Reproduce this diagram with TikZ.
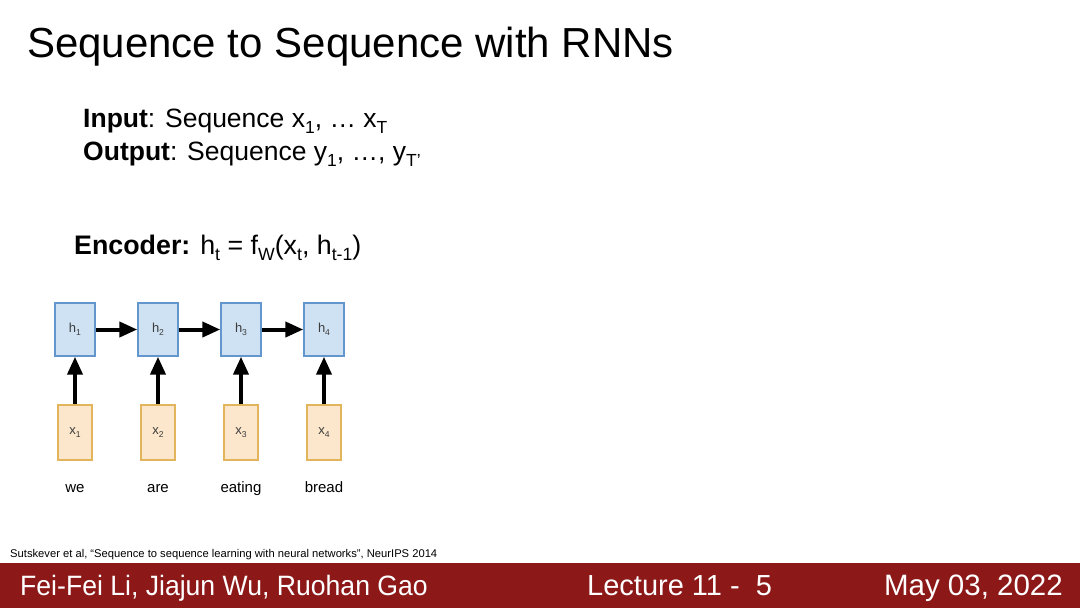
\documentclass[tikz,border=0pt]{standalone}
\usepackage{fontspec}
\setmainfont{Liberation Sans}
\usetikzlibrary{arrows.meta}
\definecolor{barred}{RGB}{140,24,24}
\definecolor{hfill}{RGB}{207,226,243}
\definecolor{hdraw}{RGB}{98,150,205}
\definecolor{xfill}{RGB}{252,231,204}
\definecolor{xdraw}{RGB}{226,180,92}
\definecolor{lbl}{RGB}{60,60,60}
\newcommand\lsub[1]{\raisebox{-0.45ex}{\scalebox{0.66}{#1}}}
\tikzset{
  hbox/.style={draw=hdraw, fill=hfill, line width=1.4pt, minimum width=40pt, minimum height=53pt, inner sep=0pt, font=\fontsize{13}{15}\selectfont, text=lbl},
  xbox/.style={draw=xdraw, fill=xfill, line width=1.4pt, minimum width=34pt, minimum height=55pt, inner sep=0pt, font=\fontsize{13}{15}\selectfont, text=lbl},
  word/.style={font=\fontsize{15}{18}\selectfont, inner sep=0pt, anchor=base},
  conn/.style={line width=4pt, -{Triangle[length=18pt,width=15pt]}},
  foot/.style={text=white, inner sep=0pt}
}
\begin{document}
\begin{tikzpicture}[x=1pt,y=-1pt]
\useasboundingbox (0,0) rectangle (1080,608);
\fill[white] (0,0) rectangle (1080,608);
% title
\node[anchor=base west, inner sep=0pt, font=\fontsize{42}{46}\selectfont] (title) at (27,57) {Sequence to Sequence with RNNs};
% input/output
\node[anchor=base west, inner sep=0pt, font=\fontsize{26.5}{31}\selectfont] (inp) at (83,127) {\textbf{Input}: Sequence x\lsub{1}, … x\lsub{T}};
\node[anchor=base west, inner sep=0pt, font=\fontsize{26.5}{31}\selectfont] (outp) at (83,160) {\textbf{Output}: Sequence y\lsub{1}, …, y\lsub{T'}};
% encoder
\node[anchor=base west, inner sep=0pt, font=\fontsize{26.8}{31}\selectfont] (enc) at (74,254) {\textbf{Encoder:} h\lsub{t} = f\lsub{W}(x\lsub{t}, h\lsub{t-1})};
% boxes
\foreach \i/\cx/\w in {1/75/we, 2/158/are, 3/241/eating, 4/324/bread}{
  \node[hbox] (h\i) at (\cx,329.5) {h\lsub{\i}};
  \node[xbox] (x\i) at (\cx,432.5) {x\lsub{\i}};
  \node[word] (w\i) at (\cx,492) {\w};
  \draw[conn] (x\i.north) -- (h\i.south);
}
\draw[conn] (h1.east) -- (h2.west);
\draw[conn] (h2.east) -- (h3.west);
\draw[conn] (h3.east) -- (h4.west);
% citation
\node[anchor=base west, inner sep=0pt, font=\fontsize{11.2}{13}\selectfont] (cite) at (10,557) {Sutskever et al, “Sequence to sequence learning with neural networks”, NeurIPS 2014};
% footer
\fill[barred] (0,563) rectangle (1080,608);
\node[foot, anchor=base west, font=\fontsize{28}{32}\selectfont] (names) at (20,595) {\scalebox{0.95}[1]{Fei-Fei Li, Jiajun Wu, Ruohan Gao}};
\node[foot, anchor=base west, font=\fontsize{29}{32}\selectfont] (lect) at (587,595) {Lecture 11 -\ \ 5};
\node[foot, anchor=base east, font=\fontsize{29.5}{32}\selectfont] (date) at (1063,595) {May 03, 2022};
\end{tikzpicture}
\end{document}
